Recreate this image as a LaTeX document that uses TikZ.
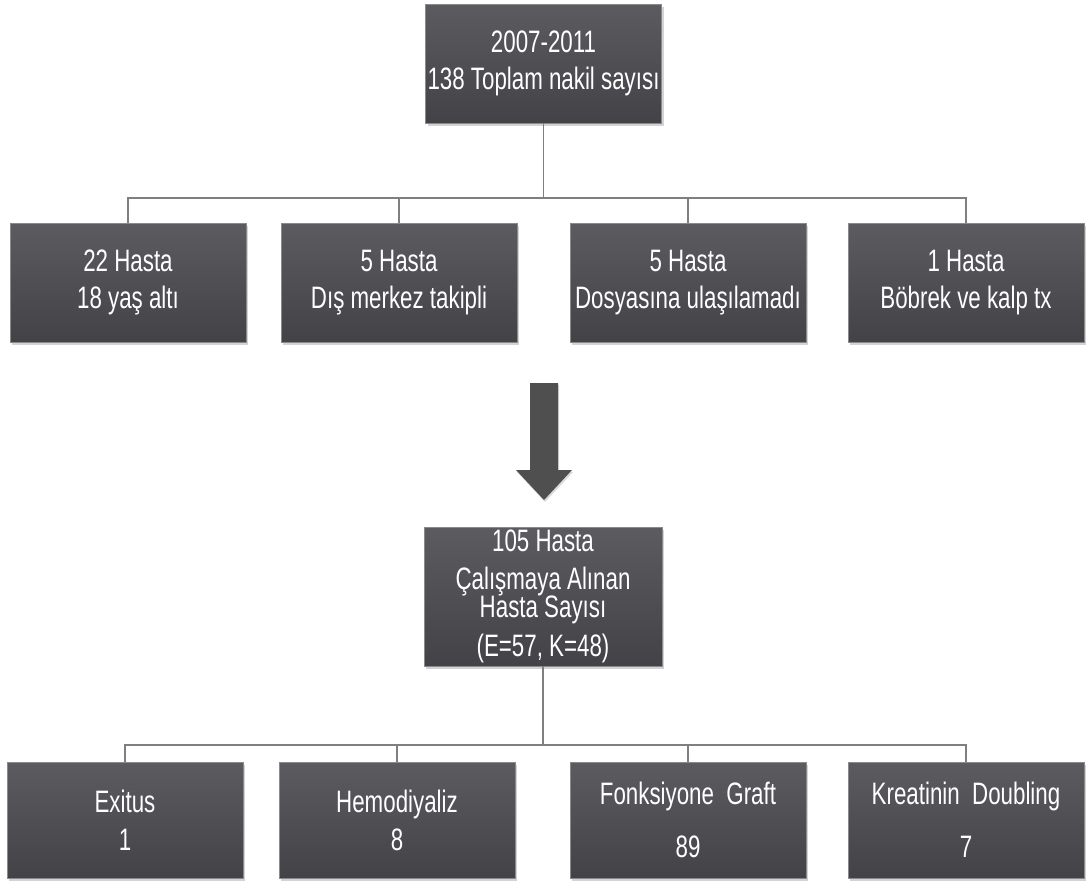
\documentclass[tikz,border=0pt]{standalone}
\usepackage{fontspec}
\setmainfont{Liberation Sans}[FakeStretch=0.72]
\usetikzlibrary{shadows}
\definecolor{boxtop}{HTML}{5C5B60}
\definecolor{boxbot}{HTML}{434247}
\definecolor{boxedge}{HTML}{8A8A8E}
\definecolor{linkgray}{HTML}{7F7F7F}
\definecolor{arrowgray}{HTML}{4F4F4F}

\begin{document}
\begin{tikzpicture}[x=1pt,y=-1pt,
  box/.style={rectangle,draw=boxedge,line width=0.8pt,top color=boxtop,bottom color=boxbot,
    text=white,align=center,inner sep=0pt,minimum width=236pt,minimum height=119pt,
    font=\fontsize{31}{37}\selectfont,
    drop shadow={shadow xshift=2pt,shadow yshift=-3pt,opacity=0.35}},
  link/.style={draw=linkgray,line width=1.2pt}]
  \useasboundingbox (0,0) rectangle (1087,884);
  \node[box] (total) at (543.5,63.5) {2007-2011\\138 Toplam nakil sayısı};
  \node[box] (under) at (128,282.5) {22 Hasta\\18 yaş altı};
  \node[box] (outside) at (399,282.5) {5 Hasta\\Dış merkez takipli};
  \node[box] (nofile) at (688,282.5) {5 Hasta\\Dosyasına ulaşılamadı};
  \node[box] (kidney) at (966,282.5) {1 Hasta\\Böbrek ve kalp tx};
  \coordinate (split) at (543.5,198);
  \draw[link] (total) -- (split);
  \foreach \n in {under,outside,nofile,kidney}
    \draw[link] (split) -| (\n.north);
  \fill[arrowgray,drop shadow={shadow xshift=1pt,shadow yshift=-2pt,opacity=0.3}]
    (530,383) -- (558,383) -- (558,470) -- (572,470) -- (544,500) -- (516,470) -- (530,470) -- cycle;
  \node[box,minimum width=238pt,minimum height=139pt] (study) at (543,596.5)
    {105 Hasta\\[1pt]Çalışmaya Alınan\\[-9pt]Hasta Sayısı\\[2pt](E=57, K=48)};
  \node[box,minimum height=116pt] (exitus) at (125,820) {\raisebox{-3pt}{Exitus}\\[4pt]1};
  \node[box,minimum height=116pt] (dialysis) at (397,820) {\raisebox{-3pt}{Hemodiyaliz}\\[4pt]8};
  \node[box,minimum height=116pt] (graft) at (688,820) {Fonksiyone\ \ Graft\\[16pt]89};
  \node[box,minimum height=116pt] (doubling) at (966,820) {Kreatinin\ \ Doubling\\[16pt]7};
  \coordinate (split2) at (543,745);
  \draw[link] (study) -- (split2);
  \foreach \n in {exitus,dialysis,graft,doubling}
    \draw[link] (split2) -| (\n.north);
\end{tikzpicture}
\end{document}
